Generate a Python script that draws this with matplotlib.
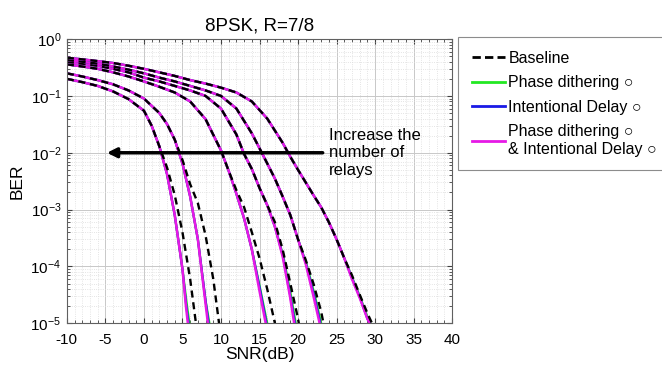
import matplotlib
matplotlib.use("Agg")
import matplotlib.pyplot as plt

plt.rcParams['font.family'] = ['Liberation Sans', 'DejaVu Sans']
plt.rcParams['mathtext.fontset'] = 'custom'
plt.rcParams['mathtext.rm'] = 'Liberation Sans'
plt.rcParams['axes.unicode_minus'] = False

# ---------------------------------------------------------------------------
# BER curves, one per number of relays (curve 1 = most relays, leftmost)
# the upper part is shared by all schemes, the tails differ a little
# ---------------------------------------------------------------------------
snr_c1 = [-10, -8, -6, -4, -2, 0, 1, 2]
ber_c1 = [0.20, 0.175, 0.15, 0.12, 0.088, 0.055, 0.03, 0.013]
tail_c1_snr_base = [3, 4, 5, 6, 6.75]
tail_c1_ber_base = [0.0055, 0.0018, 0.0004, 0.00006, 0.00001]
tail_c1_snr_pd = [3, 4, 5, 5.6, 5.9]
tail_c1_snr_id = [3, 4, 5, 5.5, 5.8]
tail_c1_snr_both = [3, 4, 5, 5.45, 5.7]
tail_c1_ber = [0.0042, 0.0008, 0.00009, 0.00002, 0.00001]

snr_c2 = [-10, -8, -6, -4, -2, 0, 2, 3, 4]
ber_c2 = [0.25, 0.22, 0.19, 0.16, 0.125, 0.09, 0.05, 0.032, 0.017]
tail_c2_snr_base = [5, 6, 7, 8, 9, 9.75]
tail_c2_ber_base = [0.0075, 0.0028, 0.0013, 0.00035, 0.00006, 0.00001]
tail_c2_snr_pd = [5, 6, 7, 8, 8.5]
tail_c2_snr_id = [5, 6, 7, 8, 8.4]
tail_c2_snr_both = [5, 6, 7, 7.95, 8.3]
tail_c2_ber = [0.0065, 0.0017, 0.0003, 0.000025, 0.00001]

snr_c3 = [-10, -8, -6, -4, -2, 0, 2, 4, 6, 8, 10, 11]
ber_c3 = [0.36, 0.33, 0.30, 0.26, 0.22, 0.18, 0.145, 0.115, 0.08, 0.039, 0.011, 0.0048]
tail_c3_snr_base = [12, 13, 14, 15, 16, 17]
tail_c3_ber_base = [0.0022, 0.0011, 0.0004, 0.00014, 0.00004, 0.00001]
tail_c3_snr_pd = [12, 13, 14, 15.1, 16.0]
tail_c3_snr_id = [12, 13, 14, 15.05, 15.9]
tail_c3_snr_both = [12, 13, 14, 14.95, 15.8]
tail_c3_ber = [0.0019, 0.0007, 0.0002, 0.00004, 0.00001]

snr_c4 = [-10, -8, -6, -4, -2, 0, 2, 4, 6, 8, 10, 12, 13, 14, 15, 16]
ber_c4 = [0.40, 0.37, 0.34, 0.30, 0.26, 0.21, 0.18, 0.15, 0.125, 0.10, 0.06,
          0.021, 0.0095, 0.0052, 0.0024, 0.0012]
tail_c4_snr_base = [17, 18, 19, 20, 20.1]
tail_c4_ber_base = [0.0006, 0.0002, 0.00005, 0.000012, 0.00001]
tail_c4_snr_pd = [17, 18.1, 19.1, 19.7]
tail_c4_snr_id = [17, 18.05, 19.0, 19.6]
tail_c4_snr_both = [17, 18, 18.95, 19.5]
tail_c4_ber = [0.0005, 0.00015, 0.00003, 0.00001]

snr_c5 = [-10, -8, -6, -4, -2, 0, 2, 4, 6, 8, 10, 12, 14, 15, 16, 17, 18, 19, 20]
ber_c5 = [0.43, 0.40, 0.37, 0.33, 0.29, 0.25, 0.21, 0.18, 0.15, 0.125, 0.10,
          0.06, 0.022, 0.012, 0.0065, 0.0035, 0.0017, 0.0008, 0.0003]
tail_c5_snr_base = [21, 22, 23, 23.3]
tail_c5_ber_base = [0.00013, 0.00005, 0.000016, 0.00001]
tail_c5_snr_pd = [21.1, 22.2, 23.0]
tail_c5_snr_id = [21.05, 22.1, 22.9]
tail_c5_snr_both = [21, 22, 22.8]
tail_c5_ber = [0.00011, 0.00003, 0.00001]

snr_c6 = [-10, -8, -6, -4, -2, 0, 2, 4, 6, 8, 10, 12, 14, 16, 18, 19, 20, 21,
          22, 23, 24, 25, 26]
ber_c6 = [0.47, 0.44, 0.41, 0.38, 0.34, 0.30, 0.26, 0.225, 0.19, 0.165, 0.14,
          0.115, 0.08, 0.04, 0.015, 0.0085, 0.005, 0.003, 0.0018, 0.0011,
          0.0006, 0.0003, 0.00014]
tail_c6_snr_base = [27, 28, 29, 29.6]
tail_c6_ber_base = [0.00007, 0.000032, 0.000015, 0.00001]
tail_c6_snr_pd = [27.1, 28.1, 29.1, 29.4]
tail_c6_snr_id = [27.05, 28.05, 29.0, 29.35]
tail_c6_snr_both = [27, 28, 29, 29.3]
tail_c6_ber = [0.00006, 0.000028, 0.000012, 0.00001]

curves = [
    (snr_c1, ber_c1, tail_c1_snr_base, tail_c1_ber_base, tail_c1_snr_pd, tail_c1_snr_id, tail_c1_snr_both, tail_c1_ber),
    (snr_c2, ber_c2, tail_c2_snr_base, tail_c2_ber_base, tail_c2_snr_pd, tail_c2_snr_id, tail_c2_snr_both, tail_c2_ber),
    (snr_c3, ber_c3, tail_c3_snr_base, tail_c3_ber_base, tail_c3_snr_pd, tail_c3_snr_id, tail_c3_snr_both, tail_c3_ber),
    (snr_c4, ber_c4, tail_c4_snr_base, tail_c4_ber_base, tail_c4_snr_pd, tail_c4_snr_id, tail_c4_snr_both, tail_c4_ber),
    (snr_c5, ber_c5, tail_c5_snr_base, tail_c5_ber_base, tail_c5_snr_pd, tail_c5_snr_id, tail_c5_snr_both, tail_c5_ber),
    (snr_c6, ber_c6, tail_c6_snr_base, tail_c6_ber_base, tail_c6_snr_pd, tail_c6_snr_id, tail_c6_snr_both, tail_c6_ber),
]

legend_labels = ["Baseline", "Phase dithering \u25cb", "Intentional Delay \u25cb",
                 "Phase dithering \u25cb\n& Intentional Delay \u25cb"]
x_ticks = [-10, -5, 0, 5, 10, 15, 20, 25, 30, 35, 40]

col_pd = '#22e822'
col_id = '#1a1ae6'
col_both = '#e619e6'

fig = plt.figure(figsize=(6.62, 3.69), dpi=100)
ax = fig.add_axes([0.101, 0.124, 0.582, 0.770])

for snr, ber, sb, bb, spd, sid, sboth, bt in curves:
    ax.semilogy(snr + spd, ber + bt, color=col_pd, lw=1.6)
    ax.semilogy(snr + sid, ber + bt, color=col_id, lw=1.6)
    ax.semilogy(snr + sboth, ber + bt, color=col_both, lw=1.8)
    ax.semilogy(snr + sb, ber + bb, color='black', lw=1.7, linestyle=(0, (3, 2)))

ax.set_xlim(-10, 40)
ax.set_ylim(1e-5, 1)
ax.set_xticks(x_ticks)
ax.set_xticks(range(-10, 41), minor=True)
ax.grid(True, which='major', color='#c8c8c8', lw=0.7)
ax.grid(True, which='minor', color='#dcdcdc', lw=0.6, linestyle=':')
ax.tick_params(which='both', direction='in', labelsize=11, color='#404040',
               top=True, right=True)
ax.tick_params(axis='x', pad=7)
ax.tick_params(axis='y', pad=4)
ax.tick_params(which='minor', length=2)
for sp in ax.spines.values():
    sp.set_color('#606060')
    sp.set_linewidth(0.8)

ax.set_title("8PSK, R=7/8", fontsize=13.5, pad=6)
ax.set_xlabel("SNR(dB)", fontsize=12.5, labelpad=0)
ax.set_ylabel("BER", fontsize=12.5, labelpad=4)

ax.annotate("", xy=(-4.8, 1e-2), xytext=(23.2, 1e-2),
            arrowprops=dict(arrowstyle='-|>', color='black', lw=2.5,
                            mutation_scale=14, shrinkA=0, shrinkB=0))
ax.text(24.0, 1e-2, "Increase the\nnumber of\nrelays", fontsize=12,
        ha='left', va='center', linespacing=1.2)

handles = [
    plt.Line2D([], [], color='black', lw=2, linestyle=(0, (3, 1.5))),
    plt.Line2D([], [], color=col_pd, lw=2),
    plt.Line2D([], [], color=col_id, lw=2),
    plt.Line2D([], [], color=col_both, lw=2),
]
leg = fig.legend(handles, legend_labels, loc='upper left',
                 bbox_to_anchor=(458 / 662, 1 - 37 / 369), fontsize=11.5,
                 frameon=True, fancybox=False, handlelength=2.1,
                 handletextpad=0.2, borderpad=0.85, labelspacing=0.6,
                 borderaxespad=0)
leg.get_frame().set_edgecolor('#707070')
leg.get_frame().set_linewidth(0.8)

fig.savefig("out.png", dpi=100)
